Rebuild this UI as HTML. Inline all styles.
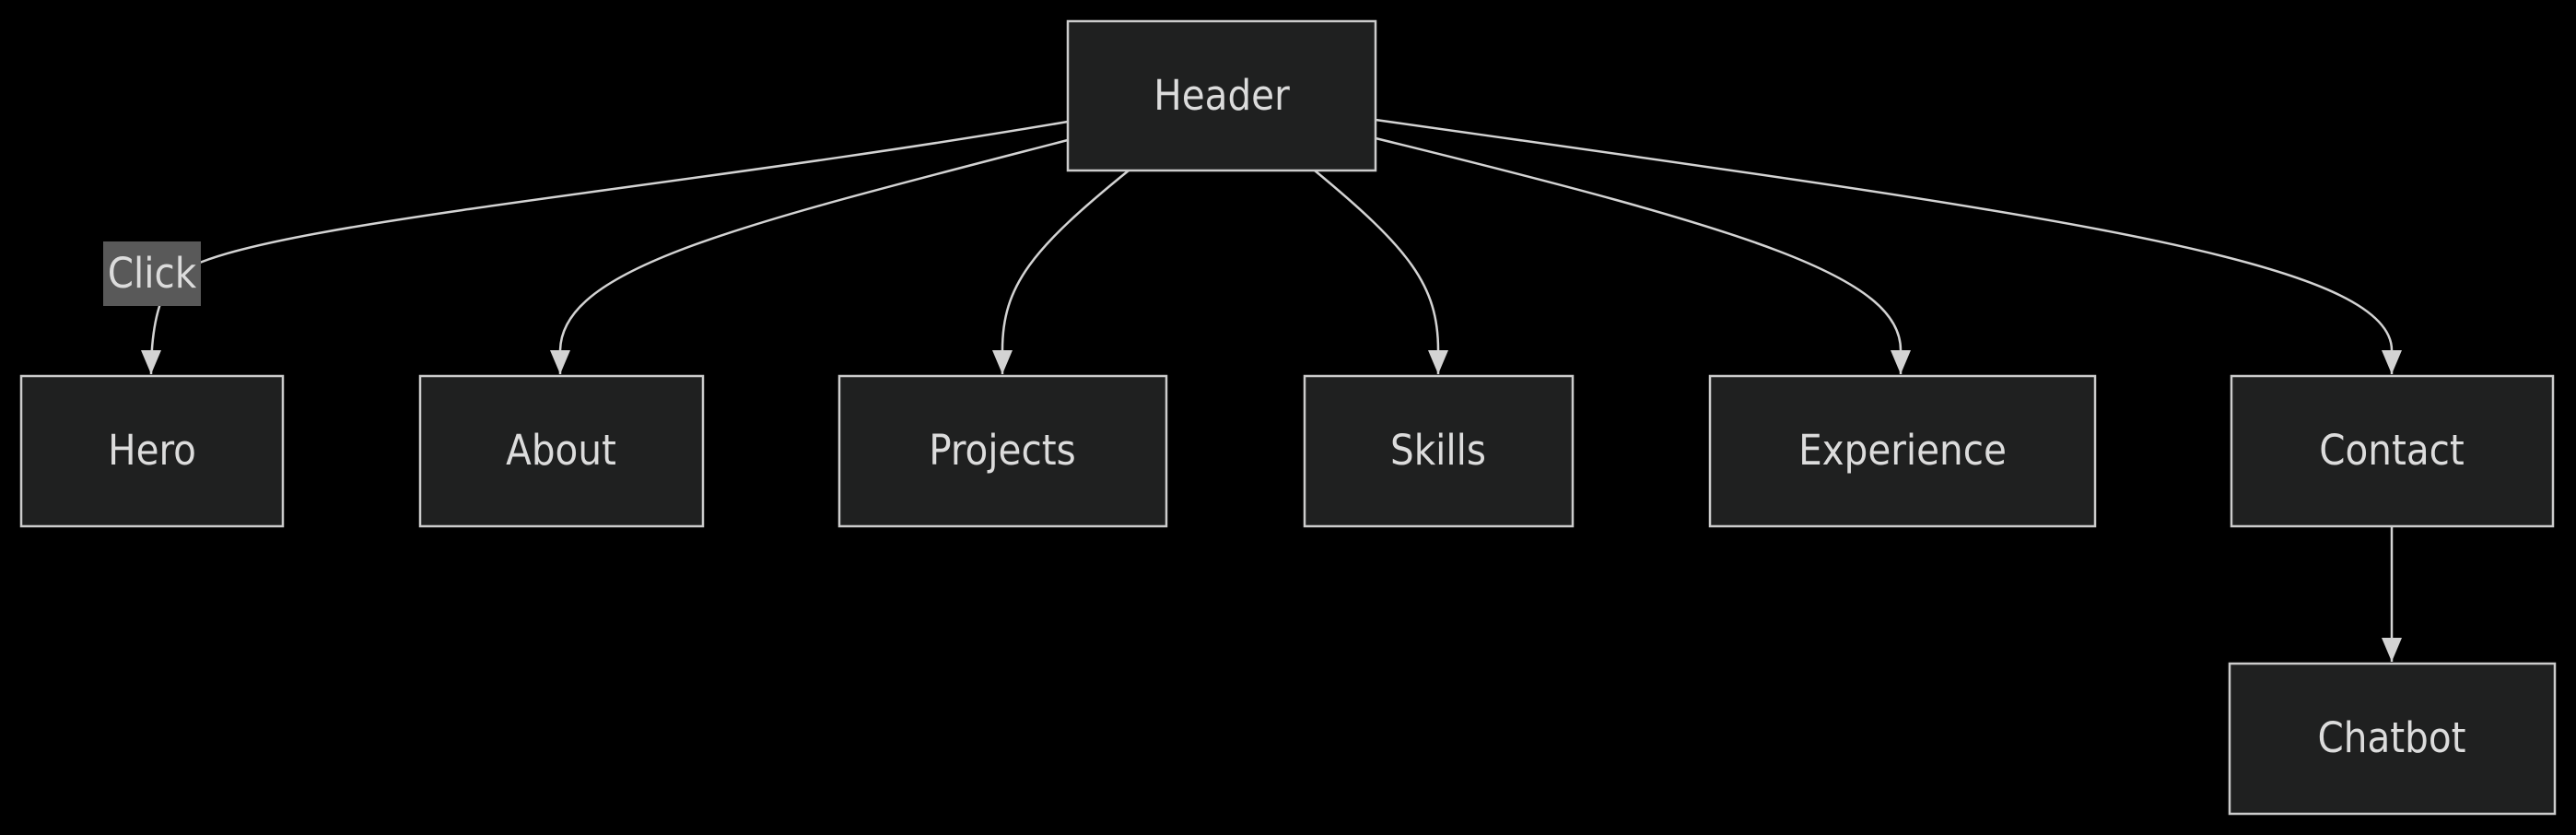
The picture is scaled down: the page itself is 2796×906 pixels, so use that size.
<!DOCTYPE html>
<html><head><meta charset="utf-8"><style>
html,body{margin:0;padding:0;background:#000;}
svg{display:block}
text{font-family:"DejaVu Sans Condensed","DejaVu Sans","Liberation Sans",sans-serif;fill:#dcdcdc;font-size:45px;}
</style></head><body>
<svg width="2796" height="906" viewBox="0 0 2796 906" xmlns="http://www.w3.org/2000/svg">
<defs>
<marker id="b" viewBox="0 0 26 22" refX="26" refY="11" markerWidth="26" markerHeight="22" orient="auto" markerUnits="userSpaceOnUse"><path d="M0,0 L26,11 L0,22 Z" fill="#d3d3d3"/></marker></defs>
<g fill="none" stroke="#d3d3d3" stroke-width="2.5" marker-end="url(#b)">
<path d="M1159,132 C700,210 250,245 190,300 Q164,330 164,406"/>
<path d="M1159,152 C800,245 610,290 608,380 L608,406"/>
<path d="M1225,185 C1120,270 1088,310 1088,380 L1088,406"/>
<path d="M1427,185 C1530,270 1561,310 1561,380 L1561,406"/>
<path d="M1493,150 C1900,250 2063,300 2063,380 L2063,406"/>
<path d="M1493,130 C2200,230 2596,280 2596,380 L2596,406"/>
<path d="M2596,571 L2596,718"/>
</g>
<rect x="112" y="262" width="106" height="70" fill="#595959"/>
<text x="165" y="312" text-anchor="middle">Click</text>
<g fill="#1f2020" stroke="#cccccc" stroke-width="2.5">
<rect x="1159" y="23" width="334" height="162"/>
<rect x="23" y="408" width="284" height="163"/>
<rect x="456" y="408" width="307" height="163"/>
<rect x="911" y="408" width="355" height="163"/>
<rect x="1416" y="408" width="291" height="163"/>
<rect x="1856" y="408" width="418" height="163"/>
<rect x="2422" y="408" width="349" height="163"/>
<rect x="2420" y="720" width="353" height="163"/>
</g>
<g text-anchor="middle">
<text x="1326" y="119">Header</text>
<text x="165" y="504">Hero</text>
<text x="609" y="504">About</text>
<text x="1088" y="504">Projects</text>
<text x="1561" y="504">Skills</text>
<text x="2065" y="504">Experience</text>
<text x="2596" y="504">Contact</text>
<text x="2596" y="816">Chatbot</text>
</g>
</svg>
</body></html>
